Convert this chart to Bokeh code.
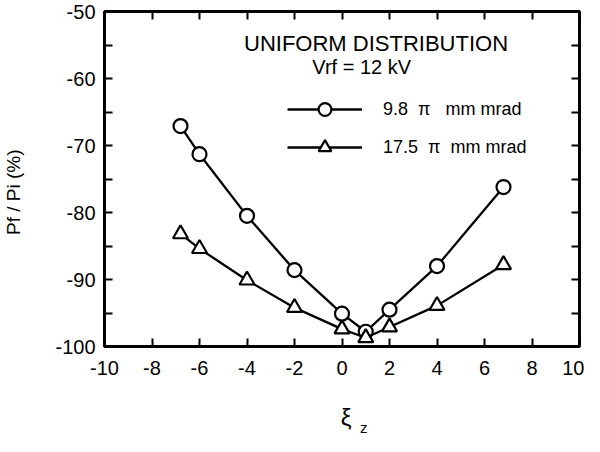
from bokeh.plotting import figure
from bokeh.layouts import column
from bokeh.models import Range1d, LinearAxis, FixedTicker, Label, Legend, LegendItem
from bokeh.embed import file_html
from bokeh.resources import INLINE

# ---- data ----
xi_circle = [-6.8, -6.0, -4.0, -2.0, 0.0, 1.0, 2.0, 4.0, 6.8]
pf_circle = [-67.1, -71.3, -80.5, -88.6, -95.1, -97.8, -94.5, -88.0, -76.2]
xi_tri = [-6.8, -6.0, -4.0, -2.0, 0.0, 1.0, 2.0, 4.0, 6.8]
pf_tri = [-83.2, -85.4, -90.1, -94.2, -97.4, -98.7, -97.1, -93.9, -87.8]

x_ticks = [-10, -8, -6, -4, -2, 0, 2, 4, 6, 8, 10]
x_tick_labels = ["-10", "-8", "-6", "-4", "-2", "0", "2", "4", "6", "8", "10"]
y_ticks = [-100, -90, -80, -70, -60, -50]
y_tick_labels = ["-100", "-90", "-80", "-70", "-60", "-50"]
y_minor_ticks = [-95, -85, -75, -65, -55]

title_text = "UNIFORM  DISTRIBUTION"
subtitle_text = "Vrf = 12 kV"
series_labels = ["9.8  \u03c0   mm mrad", "17.5  \u03c0  mm mrad"]
y_label = "Pf / Pi  (%)"
x_label_main = "\u03be"
x_label_sub = "z"

FONT = "Liberation Sans"
NBSP = "\u00a0"

p = figure(width=584, height=400, output_backend="svg", toolbar_location=None,
           x_range=Range1d(-10, 10), y_range=Range1d(-100, -50),
           min_border_left=99, min_border_right=5, min_border_top=11, min_border_bottom=54,
           background_fill_color="white", border_fill_color="white")
p.grid.visible = False
p.outline_line_color = "black"
p.outline_line_width = 2.8


def style_axis(ax, ticks, minor, labels=None):
    ax.ticker = FixedTicker(ticks=ticks, minor_ticks=minor)
    ax.major_tick_in = 8
    ax.major_tick_out = 0
    ax.minor_tick_in = 8
    ax.minor_tick_out = 0
    ax.major_tick_line_width = 2
    ax.minor_tick_line_width = 2
    ax.major_tick_line_color = "black"
    ax.minor_tick_line_color = "black"
    ax.axis_line_color = "black"
    ax.axis_line_width = 2.8
    if labels is not None:
        ax.major_label_overrides = dict(zip(ticks, labels))
        ax.major_label_text_font = FONT
        ax.major_label_text_font_size = "20px"
        ax.major_label_text_color = "black"
    else:
        ax.major_label_overrides = {t: "" for t in ticks}
        ax.major_label_text_font_size = "1px"
        ax.major_label_standoff = 0


style_axis(p.xaxis[0], x_ticks, [], x_tick_labels)
p.xaxis[0].major_label_standoff = 14
style_axis(p.yaxis[0], y_ticks, y_minor_ticks, y_tick_labels)
p.yaxis[0].major_label_standoff = 9
p.yaxis[0].axis_label = y_label + NBSP * 4
p.yaxis[0].axis_label_text_font = FONT
p.yaxis[0].axis_label_text_font_size = "19px"
p.yaxis[0].axis_label_text_font_style = "normal"
p.yaxis[0].axis_label_text_color = "black"
p.yaxis[0].axis_label_standoff = 28

top_ax = LinearAxis()
style_axis(top_ax, x_ticks, [])
p.add_layout(top_ax, "above")
right_ax = LinearAxis()
style_axis(right_ax, y_ticks, y_minor_ticks)
p.add_layout(right_ax, "right")

# ---- series ----
l1 = p.line(xi_circle, pf_circle, line_color="black", line_width=2.3)
s1 = p.scatter(xi_circle, pf_circle, marker="circle", size=14,
               fill_color="white", line_color="black", line_width=2.2)
l2 = p.line(xi_tri, pf_tri, line_color="black", line_width=2.3)
s2 = p.scatter(xi_tri, pf_tri, marker="triangle", size=15,
               fill_color="white", line_color="black", line_width=2.2)

legend = Legend(items=[LegendItem(label=series_labels[0], renderers=[l1, s1]),
                       LegendItem(label=series_labels[1], renderers=[l2, s2])],
                location=(183, 183), orientation="vertical",
                glyph_width=75, glyph_height=32, label_height=32, spacing=6,
                label_standoff=21, padding=0, margin=0,
                border_line_color=None, background_fill_alpha=0,
                label_text_font=FONT, label_text_font_size="18px",
                label_text_color="black")
p.add_layout(legend, "center")

# ---- annotations inside the frame ----
p.add_layout(Label(x=-4.125, y=-54.85, text=title_text, text_font=FONT,
                   text_font_size="22px", text_baseline="middle", text_color="black"))
p.add_layout(Label(x=-1.25, y=-58.3, text=subtitle_text, text_font=FONT,
                   text_font_size="20px", text_baseline="middle", text_color="black"))

# ---- x-axis title strip (xi with subscript z) ----
p2 = figure(width=584, height=36, output_backend="svg", toolbar_location=None,
            x_range=p.x_range, y_range=Range1d(0, 1),
            x_axis_type=None, y_axis_type=None,
            min_border_left=99, min_border_right=5, min_border_top=0, min_border_bottom=0,
            background_fill_color="white", border_fill_color="white")
p2.outline_line_color = None
p2.grid.visible = False
p2.add_layout(Label(x=0.17, y=0.53, text=x_label_main, text_font=FONT,
                    text_font_size="24px", text_baseline="middle", text_align="center",
                    text_color="black"))
p2.add_layout(Label(x=0.92, y=0.25, text=x_label_sub, text_font=FONT,
                    text_font_size="15px", text_baseline="middle", text_align="center",
                    text_color="black"))

layout = column(p, p2, spacing=0)
open("out.html", "w").write(file_html(layout, INLINE))
